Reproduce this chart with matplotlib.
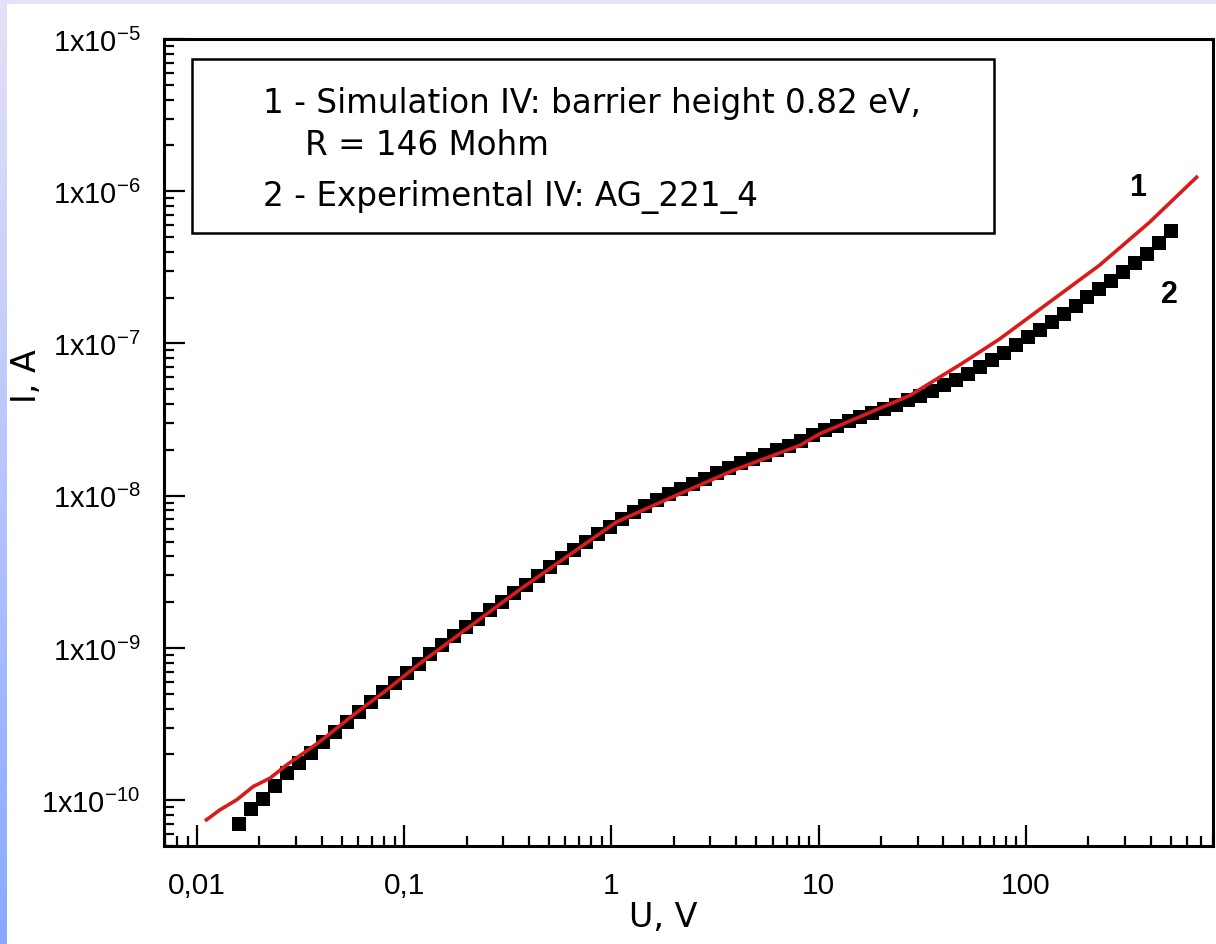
import numpy as np
import matplotlib
matplotlib.use("Agg")
import matplotlib.pyplot as plt
from matplotlib.ticker import LogLocator, FixedLocator, FixedFormatter, NullFormatter
from matplotlib.patches import Rectangle

# ---- data -----------------------------------------------------------------
# Experimental I-V curve (sample AG_221_4): voltage, V and current, A
exp_U = [0.0160, 0.0183, 0.0209, 0.0238, 0.0272, 0.0311, 0.0355, 0.0405, 0.0463, 0.0528,
         0.0603, 0.0689, 0.0787, 0.0898, 0.1026, 0.1172, 0.1338, 0.1528, 0.1744, 0.1992,
         0.2275, 0.2598, 0.2967, 0.3388, 0.3869, 0.4418, 0.5045, 0.5761, 0.6579, 0.7513,
         0.8579, 0.9797, 1.119, 1.278, 1.459, 1.666, 1.903, 2.173, 2.481, 2.834,
         3.236, 3.695, 4.220, 4.819, 5.503, 6.284, 7.176, 8.195, 9.359, 10.69,
         12.20, 13.94, 15.91, 18.17, 20.75, 23.70, 27.06, 30.91, 35.29, 40.31,
         46.03, 52.56, 60.02, 68.55, 78.27, 89.39, 102.1, 116.6, 133.1, 152.0,
         173.6, 198.2, 226.4, 258.5, 295.2, 337.1, 384.9, 439.6, 502.0]
exp_I = [6.99e-11, 8.73e-11, 1.015e-10, 1.245e-10, 1.497e-10, 1.743e-10, 2.033e-10, 2.401e-10, 2.82e-10, 3.262e-10,
         3.816e-10, 4.41e-10, 5.16e-10, 5.91e-10, 6.81e-10, 7.86e-10, 9.07e-10, 1.046e-9, 1.198e-9, 1.363e-9,
         1.549e-9, 1.762e-9, 2.002e-9, 2.295e-9, 2.609e-9, 2.966e-9, 3.398e-9, 3.893e-9, 4.425e-9, 4.994e-9,
         5.59e-9, 6.26e-9, 7.07e-9, 7.77e-9, 8.55e-9, 9.34e-9, 1.020e-8, 1.103e-8, 1.195e-8, 1.293e-8,
         1.400e-8, 1.517e-8, 1.628e-8, 1.743e-8, 1.863e-8, 1.994e-8, 2.134e-8, 2.291e-8, 2.512e-8, 2.689e-8,
         2.877e-8, 3.079e-8, 3.282e-8, 3.486e-8, 3.702e-8, 3.951e-8, 4.229e-8, 4.526e-8, 4.88e-8, 5.30e-8,
         5.764e-8, 6.31e-8, 6.96e-8, 7.735e-8, 8.66e-8, 9.70e-8, 1.095e-7, 1.235e-7, 1.394e-7, 1.573e-7,
         1.775e-7, 2.009e-7, 2.277e-7, 2.589e-7, 2.953e-7, 3.383e-7, 3.893e-7, 4.596e-7, 5.467e-7]

# Simulated I-V curve: barrier height 0.82 eV, series R = 146 Mohm
sim_U = [0.01093, 0.01291, 0.01554, 0.01869, 0.02249, 0.02708, 0.03921, 0.05675, 0.08228, 0.1191,
         0.3614, 1.058, 1.913, 3.865, 8.106, 10.12, 27.51, 47.93, 74.75, 130.2,
         227.0, 395.6, 676.5]
sim_I = [7.31e-11, 8.64e-11, 1.005e-10, 1.230e-10, 1.394e-10, 1.704e-10, 2.427e-10, 3.624e-10, 5.29e-10, 7.91e-10,
         2.418e-9, 6.72e-9, 9.63e-9, 1.465e-8, 2.138e-8, 2.55e-8, 4.546e-8, 7.23e-8, 1.070e-7, 1.871e-7,
         3.27e-7, 6.26e-7, 1.26e-6]

x_ticks = [0.01, 0.1, 1, 10, 100]
x_tick_labels = ["0,01", "0,1", "1", "10", "100"]
y_ticks = [1e-10, 1e-9, 1e-8, 1e-7, 1e-6, 1e-5]
y_tick_labels = [r"$\mathregular{1x10^{-10}}$", r"$\mathregular{1x10^{-9}}$", r"$\mathregular{1x10^{-8}}$",
                 r"$\mathregular{1x10^{-7}}$", r"$\mathregular{1x10^{-6}}$", r"$\mathregular{1x10^{-5}}$"]

legend_lines = ["1 - Simulation IV: barrier height 0.82 eV,",
                "R = 146 Mohm",
                "2 - Experimental IV: AG_221_4"]

# ---- style ----------------------------------------------------------------
plt.rcParams["font.family"] = ["Liberation Sans", "DejaVu Sans"]
plt.rcParams["mathtext.fontset"] = "custom"
plt.rcParams["mathtext.rm"] = "Liberation Sans"
plt.rcParams["mathtext.it"] = "Liberation Sans:italic"
plt.rcParams["mathtext.bf"] = "Liberation Sans:bold"
wide_font = ["DejaVu Sans"]

W, H = 1216, 945
fig = plt.figure(figsize=(W / 100, H / 100), dpi=100)
fig.patch.set_facecolor("white")


def fx(px):
    return px / W


def fy(py):
    return 1 - py / H


# slide-style frame: lavender strip on top, blue gradient strip on the left
bg = fig.add_axes([0, 0, 1, 1], zorder=-10)
bg.axis("off")
img = np.ones((H, W, 3))
top_col = np.array([230, 224, 248]) / 255
bot_col = np.array([135, 170, 255]) / 255
t = np.linspace(0, 1, H)[:, None]
left_strip = top_col * (1 - t) + bot_col * t
img[:, :7, :] = left_strip[:, None, :]
img[:5, :, :] = top_col
bg.imshow(img, extent=[0, 1, 0, 1], aspect="auto", interpolation="bilinear")
bg.set_xlim(0, 1)
bg.set_ylim(0, 1)

ax = fig.add_axes([fx(164), fy(847), fx(1213) - fx(164), fy(40) - fy(847)])
ax.set_facecolor("white")

ax.plot(exp_U, exp_I, linestyle="none", marker="s", markersize=9.4,
        color="black", markeredgewidth=0, zorder=3)
ax.plot(sim_U, sim_I, color="#DA1B1B", linewidth=2.6, zorder=4,
        solid_joinstyle="round", solid_capstyle="butt")

ax.set_xscale("log")
ax.set_yscale("log")
ax.set_xlim(0.00693, 800)
ax.set_ylim(5.0e-11, 1e-5)

ax.xaxis.set_major_locator(FixedLocator(x_ticks))
ax.xaxis.set_major_formatter(FixedFormatter(x_tick_labels))
ax.yaxis.set_major_locator(FixedLocator(y_ticks))
ax.yaxis.set_major_formatter(FixedFormatter(y_tick_labels))
ax.xaxis.set_minor_locator(LogLocator(base=10, subs=np.arange(2, 10), numticks=20))
ax.yaxis.set_minor_locator(LogLocator(base=10, subs=np.arange(2, 10), numticks=20))
ax.xaxis.set_minor_formatter(NullFormatter())
ax.yaxis.set_minor_formatter(NullFormatter())

ax.tick_params(which="both", direction="in", top=False, right=False, colors="black")
ax.tick_params(which="major", length=15, width=1.6)
ax.tick_params(which="minor", length=7.5, width=1.6)
ax.tick_params(axis="y", which="major", labelsize=21, pad=17)
ax.tick_params(axis="x", which="major", labelsize=21.5, pad=18)
for s in ax.spines.values():
    s.set_linewidth(2.2)

fig.text(fx(663), fy(918), "U, V", fontsize=24, family=wide_font, ha="center", va="center")
fig.text(fx(27), fy(376), "I, A", fontsize=24, family=wide_font, ha="center", va="center", rotation=90)

# legend box with description text
box = Rectangle((fx(192), fy(234)), fx(994) - fx(192), fy(60) - fy(234),
                transform=fig.transFigure, fill=False, edgecolor="black", linewidth=1.8, zorder=5)
fig.add_artist(box)
fig.text(fx(263), fy(113), legend_lines[0], fontsize=23.5, family=wide_font, ha="left", va="baseline")
fig.text(fx(305), fy(155), legend_lines[1], fontsize=23.5, family=wide_font, ha="left", va="baseline")
fig.text(fx(263), fy(206), legend_lines[2], fontsize=23.5, family=wide_font, ha="left", va="baseline")

# curve labels
ax.text(346, 1.06e-6, "1", fontsize=22, fontweight="bold", ha="center", va="center")
ax.text(494, 2.11e-7, "2", fontsize=22, fontweight="bold", ha="center", va="center")

fig.savefig("out.png", dpi=100)
